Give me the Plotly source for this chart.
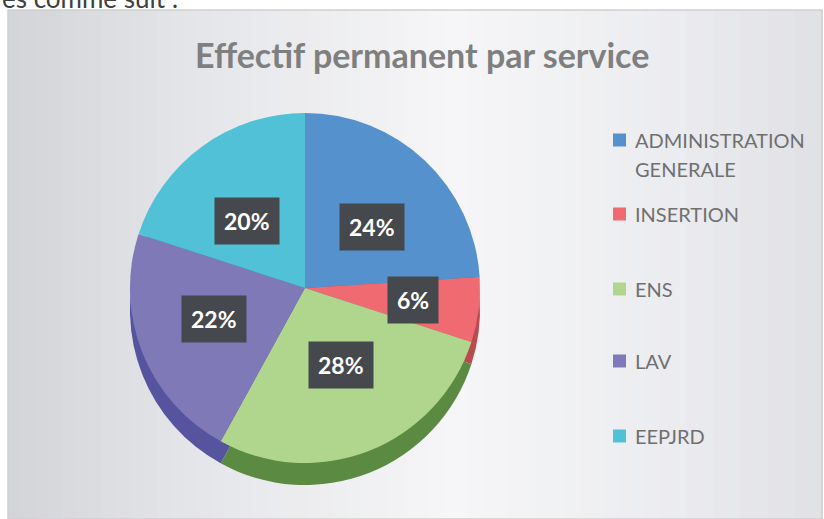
import math
import plotly.graph_objects as go

# ---- data ----
categories = ["ADMINISTRATION GENERALE", "INSERTION", "ENS", "LAV", "EEPJRD"]
values = [24, 6, 28, 22, 20]
top_colors = ["#5592cd", "#ef6a71", "#afd68c", "#7f79b8", "#50c1d7"]
side_colors = ["#3d6ea3", "#b84a50", "#5b8a43", "#56549e", "#3592a6"]
title_text = "Effectif permanent par service"

W, H = 824, 519
FONT = "Lato"

def px_x(x):
    return x / W

def px_y(y):
    return 1 - y / H

fig = go.Figure()

# ---- background frame with a soft horizontal gradient ----
shapes = []
left, right, top, bottom = 8, 822, 10, 519
n = 60
def lerp(a, b, t):
    return int(round(a + (b - a) * t))
stops = [(0.0, (210, 212, 216)), (0.25, (230, 231, 234)), (0.55, (246, 246, 248)),
         (0.8, (236, 237, 240)), (1.0, (224, 225, 229))]
for i in range(n):
    t = (i + 0.5) / n
    for j in range(len(stops) - 1):
        if stops[j][0] <= t <= stops[j + 1][0]:
            f = (t - stops[j][0]) / (stops[j + 1][0] - stops[j][0])
            c = tuple(lerp(stops[j][1][k], stops[j + 1][1][k], f) for k in range(3))
            break
    x0 = left + (right - left) * i / n
    x1 = left + (right - left) * (i + 1) / n + 0.8
    shapes.append(dict(type="rect", xref="paper", yref="paper",
                       x0=px_x(x0), x1=px_x(x1), y0=px_y(bottom), y1=px_y(top),
                       fillcolor="rgb(%d,%d,%d)" % c, line=dict(width=0), layer="below"))
shapes.append(dict(type="rect", xref="paper", yref="paper",
                   x0=px_x(left), x1=px_x(right), y0=px_y(bottom), y1=px_y(top),
                   fillcolor="rgba(0,0,0,0)", line=dict(color="#cfcfcf", width=1.5),
                   layer="below"))

# ---- pie geometry (pixels) ----
cx, cy, R = 305, 288, 175
depth = 22

# depth (side) pie, shifted down
fig.add_trace(go.Pie(
    labels=categories, values=values, sort=False, direction="clockwise", rotation=0,
    marker=dict(colors=side_colors, line=dict(width=0)),
    textinfo="none", hoverinfo="skip", showlegend=False,
    domain=dict(x=[px_x(cx - R), px_x(cx + R)],
                y=[px_y(cy + depth + R), px_y(cy + depth - R)]),
))
# top face
fig.add_trace(go.Pie(
    labels=categories, values=values, sort=False, direction="clockwise", rotation=0,
    marker=dict(colors=top_colors, line=dict(width=0)),
    textinfo="none", showlegend=False,
    domain=dict(x=[px_x(cx - R), px_x(cx + R)],
                y=[px_y(cy + R), px_y(cy - R)]),
))

annotations = []

# percentage labels in dark boxes, placed at slice mid-angles
total = sum(values)
cum = 0
for v in values:
    mid = (cum + v / 2) / total * 2 * math.pi
    cum += v
    rr = R * (0.62 if v / total < 0.1 else 0.56)
    lx = cx + rr * math.sin(mid)
    ly = cy - rr * math.cos(mid) * 0.85
    annotations.append(dict(
        x=px_x(lx), y=px_y(ly), xref="paper", yref="paper", showarrow=False,
        xanchor="center", yanchor="middle",
        text="<b>%d%%</b>" % round(v / total * 100),
        font=dict(family=FONT, size=23, color="white"),
        bgcolor="#45484c", borderpad=9,
    ))

# title
annotations.append(dict(
    x=px_x(422), y=px_y(55), xref="paper", yref="paper", showarrow=False,
    xanchor="center", yanchor="middle",
    text="<b>%s</b>" % title_text, font=dict(family=FONT, size=34, color="#7f7f7f"),
))

# cropped document text above the chart
annotations.append(dict(
    x=0, y=px_y(16), xref="paper", yref="paper", showarrow=False,
    xanchor="left", yanchor="bottom", text="es comme suit :",
    font=dict(family=FONT, size=26, color="#404040"),
))

# manual legend
leg_x, leg_y0 = 613, 140
leg_steps = [0, 74, 149, 221, 296]
for i, (cat, col) in enumerate(zip(categories, top_colors)):
    y = leg_y0 + leg_steps[i]
    shapes.append(dict(type="rect", xref="paper", yref="paper",
                       x0=px_x(leg_x), x1=px_x(leg_x + 13),
                       y0=px_y(y + 6.5), y1=px_y(y - 6.5),
                       fillcolor=col, line=dict(width=0)))
    for k, line in enumerate(cat.split(" ")):
        annotations.append(dict(
            x=px_x(leg_x + 20), y=px_y(y + 29 * k), xref="paper", yref="paper",
            xanchor="left", yanchor="middle", align="left", showarrow=False,
            text=line,
            font=dict(family=FONT, size=20, color="#707070"),
        ))

fig.update_layout(
    width=W, height=H, margin=dict(l=0, r=0, t=0, b=0),
    paper_bgcolor="white", plot_bgcolor="white",
    shapes=shapes, annotations=annotations, showlegend=False,
)

fig.write_html("out.html", config={"displayModeBar": False},
               post_script="document.body.style.margin='0';")
